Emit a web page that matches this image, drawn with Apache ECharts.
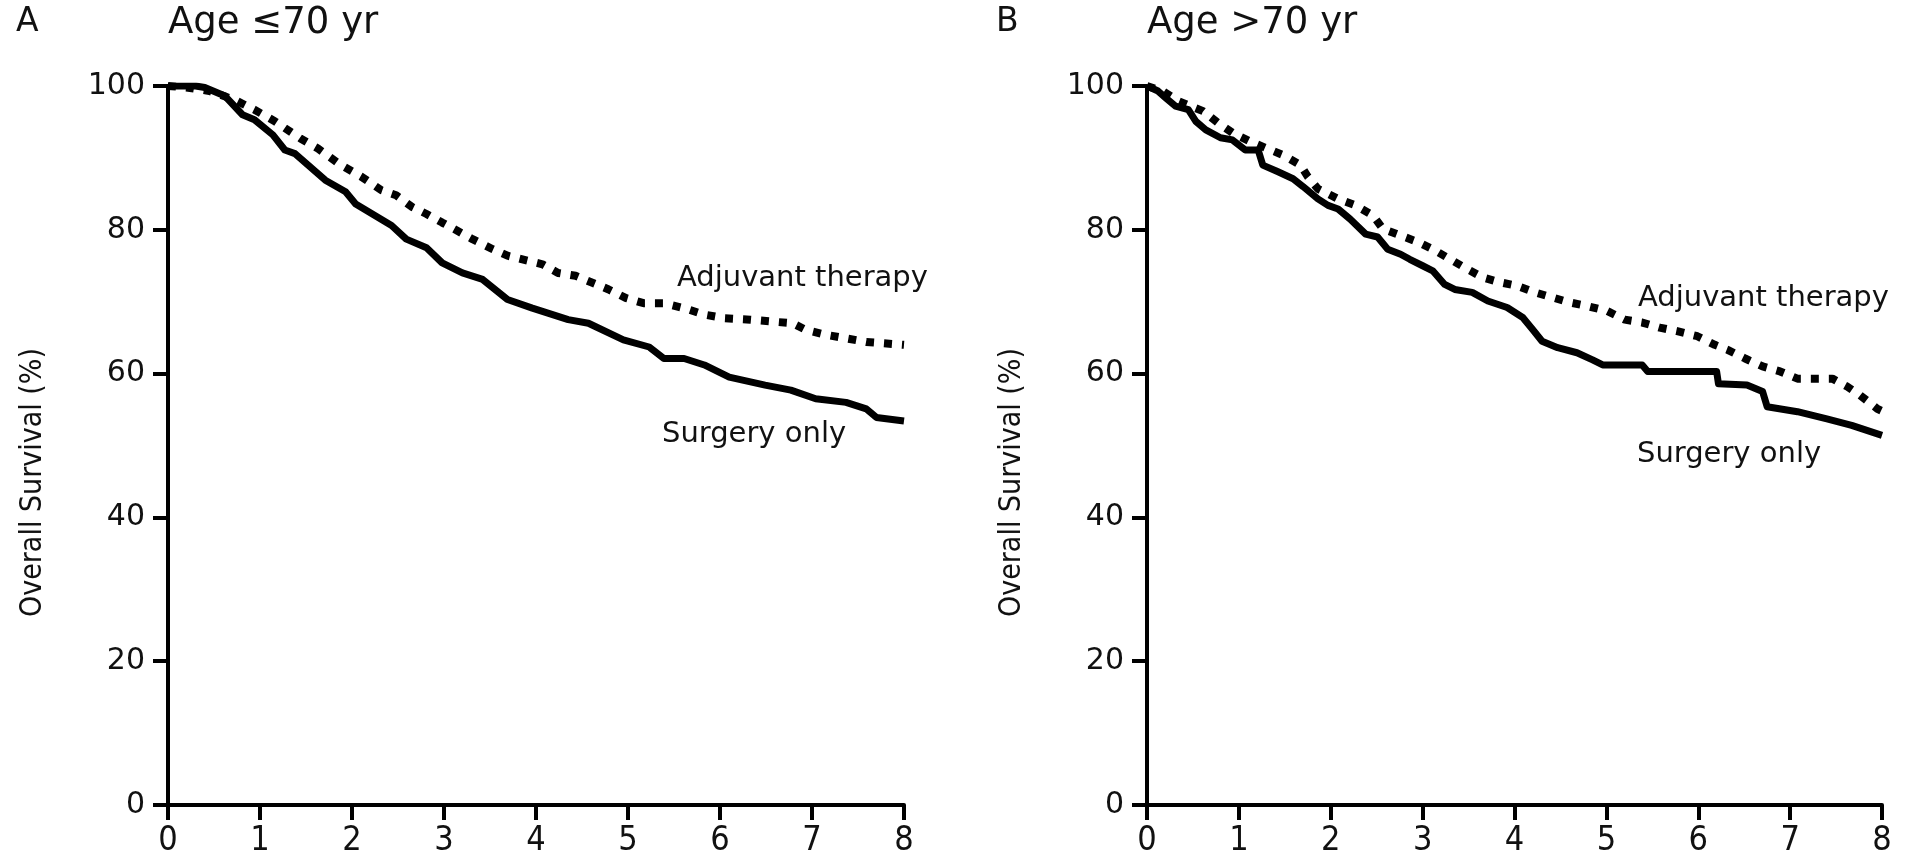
<!DOCTYPE html>
<html>
<head>
<meta charset="utf-8">
<script src="https://cdn.jsdelivr.net/npm/echarts@6/dist/echarts.min.js"></script>
<style>
html,body{margin:0;padding:0;background:#fff;}
#chart{width:1906px;height:853px;}
</style>
</head>
<body>
<div id="chart"></div>
<script>
// ---- data ----
var xTicks = [0, 1, 2, 3, 4, 5, 6, 7, 8];
var yTicks = [0, 20, 40, 60, 80, 100];
var panelTitles = ['Age \u226470 yr', 'Age >70 yr'];
var panelLetters = ['A', 'B'];
var seriesNames = ['Adjuvant therapy', 'Surgery only'];
var yAxisTitle = 'Overall Survival (%)';

// Panel A (age <= 70)
var tA_surg = [0,0.3,0.4,0.62,0.81,0.94,1.14,1.27,1.38,1.71,1.93,2.04,2.43,2.59,2.81,2.98,3.2,3.42,3.69,3.96,4.35,4.57,4.95,5.23,5.39,5.61,5.83,6.1,6.49,6.77,7.04,7.37,7.59,7.7,8];
var vA_surg = [100,100,99.8,98.6,96,95.3,93.2,91.1,90.6,86.9,85.3,83.6,80.6,78.7,77.5,75.4,74,73.1,70.3,69.1,67.5,67,64.7,63.7,62.1,62.1,61.2,59.5,58.4,57.7,56.5,56,55.1,53.9,53.4];
var tA_adj = [0,0.2,0.45,0.72,0.94,1.16,1.44,1.63,1.88,2.1,2.32,2.48,2.65,2.81,2.98,3.14,3.31,3.53,3.69,3.91,4.07,4.24,4.43,4.62,4.79,4.98,5.17,5.39,5.61,5.83,6.05,6.33,6.6,6.79,6.93,7.15,7.37,7.59,8];
var vA_adj = [100,99.8,99.3,98.1,96.7,95.1,92.7,91.3,89,87.4,85.5,84.8,83.2,82.2,81,79.9,78.7,77.3,76.4,75.7,75.2,74,73.6,72.6,71.7,70.5,69.8,69.8,69.1,68.2,67.7,67.5,67.2,67,66.1,65.4,64.9,64.4,64];

// Panel B (age > 70)
var tB_surg = [0,0.12,0.2,0.31,0.45,0.53,0.64,0.8,0.93,1.07,1.21,1.26,1.42,1.59,1.7,1.86,1.97,2.08,2.21,2.38,2.51,2.62,2.76,2.86,3,3.11,3.24,3.35,3.54,3.71,3.92,4.09,4.2,4.3,4.47,4.68,4.85,4.96,5.39,5.45,6.2,6.22,6.53,6.7,6.75,7.08,7.4,7.67,8];
var vB_surg = [100,99.3,98.4,97.2,96.7,95.1,93.9,92.8,92.5,91.1,91.1,89,88.1,87.1,86,84.3,83.4,82.9,81.5,79.4,79,77.3,76.6,75.9,75,74.3,72.4,71.7,71.3,70.1,69.2,67.8,66.1,64.5,63.6,62.9,61.9,61.2,61.2,60.3,60.3,58.6,58.4,57.5,55.4,54.7,53.7,52.8,51.4];
var tB_adj = [0,0.17,0.34,0.61,0.77,0.93,1.12,1.29,1.48,1.67,1.75,1.86,2.08,2.27,2.46,2.57,2.76,2.95,3.11,3.3,3.49,3.65,3.84,4.03,4.22,4.41,4.6,4.79,5.01,5.2,5.39,5.58,5.77,5.99,6.18,6.32,6.51,6.7,6.89,7.08,7.46,7.62,7.76,7.95,8];
var vB_adj = [100,99.3,97.9,96.5,94.9,93.5,92.3,91.4,90.4,89,87.4,85.7,84.3,83.4,82,80.1,79.2,78.3,77.3,75.9,74.5,73.4,72.7,72.2,71.3,70.6,69.9,69.4,68.7,67.5,67.1,66.4,65.9,65.2,64,63.3,62.1,61,60.3,59.3,59.3,58.2,57,55.1,54.8];

function pairs(t, v) { return t.map(function (x, i) { return [x, v[i]]; }); }

var tickFont = "'DejaVu Sans', sans-serif";
var narrowFont = "'DejaVu Sans Condensed', 'Liberation Sans', sans-serif";

function xAxisCfg(gi) {
  return {
    gridIndex: gi, type: 'value', min: xTicks[0], max: xTicks[xTicks.length - 1], interval: 1,
    axisLine: { show: true, onZero: false, lineStyle: { color: '#000', width: 4 } },
    axisTick: { show: true, inside: false, length: 15, lineStyle: { color: '#000', width: 4 } },
    axisLabel: { show: true, margin: 19, color: '#111', fontFamily: narrowFont, fontSize: 34 },
    splitLine: { show: false }
  };
}
function yAxisCfg(gi) {
  return {
    gridIndex: gi, type: 'value', min: yTicks[0], max: yTicks[yTicks.length - 1], interval: 20,
    name: yAxisTitle, nameLocation: 'middle', nameGap: 120, nameRotate: 90,
    nameTextStyle: { fontFamily: narrowFont, fontSize: 30, color: '#111', padding: [0, 74, 0, 0] },
    axisLine: { show: true, onZero: false, lineStyle: { color: '#000', width: 4 } },
    axisTick: { show: true, inside: false, length: 15, lineStyle: { color: '#000', width: 4 } },
    axisLabel: { show: true, margin: 23, color: '#111', fontFamily: tickFont, fontSize: 30 },
    splitLine: { show: false }
  };
}
function solidSeries(gi, t, v, name) {
  return {
    type: 'line', name: name, xAxisIndex: gi, yAxisIndex: gi, data: pairs(t, v),
    symbol: 'none', smooth: false, z: 3,
    lineStyle: { color: '#000', width: 7, type: 'solid', join: 'round' }
  };
}
function dottedSeries(gi, t, v, name) {
  return {
    type: 'line', name: name, xAxisIndex: gi, yAxisIndex: gi, data: pairs(t, v),
    symbol: 'none', smooth: false, z: 2,
    lineStyle: { color: '#000', width: 8, type: [8, 10], cap: 'butt' }
  };
}
function label(txt, x, y, size, fam) {
  return { type: 'text', left: x, top: y,
    style: { text: txt, fill: '#111', font: size + 'px ' + (fam || tickFont) } };
}

var chart = echarts.init(document.getElementById('chart'), null, { renderer: 'canvas' });
chart.setOption({
  animation: false,
  backgroundColor: '#fff',
  grid: [
    { left: 168, top: 86, width: 736, height: 719, containLabel: false, outerBoundsMode: 'none' },
    { left: 1147, top: 86, width: 735, height: 719, containLabel: false, outerBoundsMode: 'none' }
  ],
  xAxis: [xAxisCfg(0), xAxisCfg(1)],
  yAxis: [yAxisCfg(0), yAxisCfg(1)],
  series: [
    dottedSeries(0, tA_adj, vA_adj, seriesNames[0]),
    solidSeries(0, tA_surg, vA_surg, seriesNames[1]),
    dottedSeries(1, tB_adj, vB_adj, seriesNames[0]),
    solidSeries(1, tB_surg, vB_surg, seriesNames[1])
  ],
  graphic: [
    label(panelLetters[0], 16, 6, 33),
    label(panelTitles[0], 168, 5, 37),
    label(panelLetters[1], 996, 6, 33),
    label(panelTitles[1], 1147, 5, 37),
    label(seriesNames[0], 677, 264, 29),
    label(seriesNames[1], 662, 420, 29),
    label(seriesNames[0], 1638, 284, 29),
    label(seriesNames[1], 1637, 440, 29)
  ]
});
</script>
</body>
</html>
